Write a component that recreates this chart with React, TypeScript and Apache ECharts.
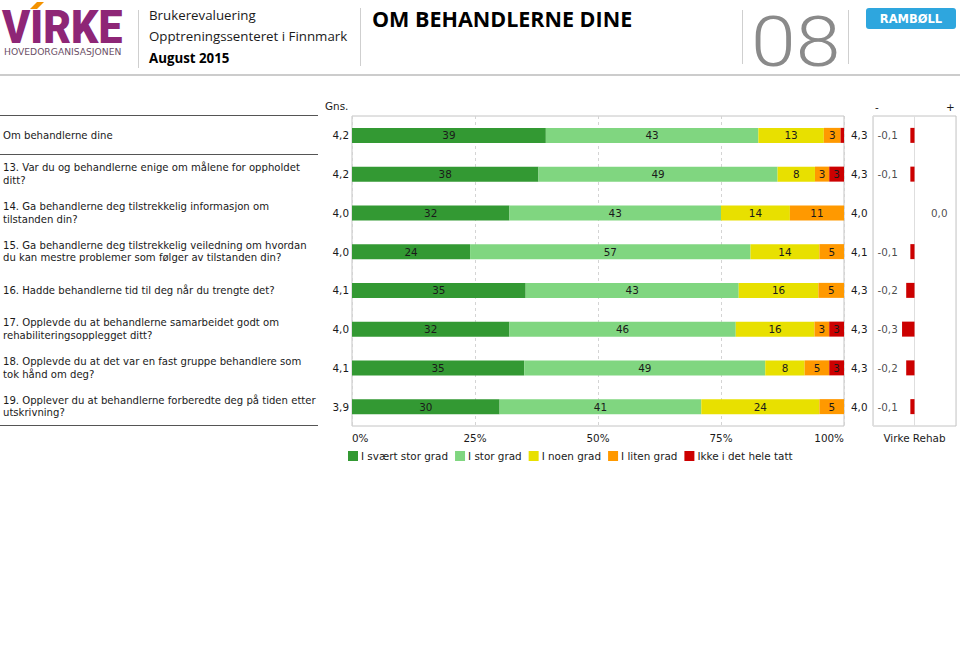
import React, { useEffect, useRef } from 'react';
import * as echarts from 'echarts';

const questions = [
  'Om behandlerne dine',
  '13. Var du og behandlerne enige om målene for oppholdet\nditt?',
  '14. Ga behandlerne deg tilstrekkelig informasjon om\ntilstanden din?',
  '15. Ga behandlerne deg tilstrekkelig veiledning om hvordan\ndu kan mestre problemer som følger av tilstanden din?',
  '16. Hadde behandlerne tid til deg når du trengte det?',
  '17. Opplevde du at behandlerne samarbeidet godt om\nrehabiliteringsopplegget ditt?',
  '18. Opplevde du at det var en fast gruppe behandlere som\ntok hånd om deg?',
  '19. Opplever du at behandlerne forberedte deg på tiden etter\nutskrivning?',
];

const gns = [4.2, 4.2, 4.0, 4.0, 4.1, 4.0, 4.1, 3.9];
const virkeRehab = [4.3, 4.3, 4.0, 4.1, 4.3, 4.3, 4.3, 4.0];
const diff = [-0.1, -0.1, 0.0, -0.1, -0.2, -0.3, -0.2, -0.1];

const seriesNames = ['I svært stor grad', 'I stor grad', 'I noen grad', 'I liten grad', 'Ikke i det hele tatt'];
const svaertStor = [39.4, 37.9, 32, 24, 35.3, 32, 35, 30];
const stor = [43.2, 48.6, 43, 57, 43.3, 46, 49, 41];
const noen = [13.3, 7.6, 14, 14, 16.2, 16, 8, 24];
const liten = [3.4, 2.9, 11, 5, 5.2, 3, 5, 5];
const ikke = [0.7, 3.0, 0, 0, 0, 3, 3, 0];
const seriesColors = ['#339933', '#80d680', '#e8e000', '#ff9900', '#cc0000'];

const FONT = 'DejaVu Sans';
const FS = 10.4;
const TXT = '#1a1a1a';

const fmt = (v: number) => v.toFixed(1).replace('.', ',');

export default function App() {
  const ref = useRef<HTMLDivElement>(null);
  useEffect(() => {
    if (!ref.current) return;
    const chart = echarts.init(ref.current, undefined, { renderer: 'svg' });
    const stackData = [svaertStor, stor, noen, liten, ikke];
    const barSeries = stackData.map((d, k) => ({
      name: seriesNames[k],
      type: 'bar',
      stack: 'total',
      xAxisIndex: 0,
      yAxisIndex: 0,
      barWidth: 15,
      data: d,
      itemStyle: { color: seriesColors[k] },
      label: {
        show: true,
        position: 'inside',
        color: TXT,
        fontFamily: FONT,
        fontSize: FS,
        formatter: (p: any) => (p.value >= 2 ? String(Math.round(p.value)) : ''),
      },
    }));

    const option: any = {
      animation: false,
      textStyle: { fontFamily: FONT },
      grid: [
        { left: 348, top: 116, width: 496, height: 310, show: true, borderColor: '#c4c4c4', borderWidth: 1 },
        { left: 873, top: 116, width: 83, height: 310, show: true, borderColor: '#c4c4c4', borderWidth: 1 },
      ],
      xAxis: [
        {
          gridIndex: 0,
          type: 'value',
          min: 0,
          max: 100,
          interval: 25,
          axisLine: { show: false },
          axisTick: { show: false },
          splitLine: { show: true, lineStyle: { color: '#d4d4d4', type: [3, 3] } },
          axisLabel: {
            formatter: '{value}%',
            margin: 7,
            fontFamily: FONT,
            fontSize: FS,
            color: TXT,
            alignMinLabel: 'left',
            alignMaxLabel: 'right',
          },
        },
        {
          gridIndex: 1,
          type: 'value',
          min: -1,
          max: 1,
          interval: 1,
          axisLine: { show: false },
          axisTick: { show: false },
          axisLabel: { show: false },
          splitLine: { show: true, lineStyle: { color: '#dedede' } },
          name: 'Virke Rehab',
          nameLocation: 'middle',
          nameGap: 7,
          nameTextStyle: { fontFamily: FONT, fontSize: FS, color: TXT },
        },
      ],
      yAxis: [
        {
          gridIndex: 0,
          type: 'category',
          inverse: true,
          data: questions,
          position: 'left',
          axisLine: { show: false },
          axisTick: { show: false },
          axisLabel: {
            margin: 3,
            fontFamily: FONT,
            fontSize: FS,
            color: TXT,
            formatter: (_v: string, i: number) => fmt(gns[i]),
          },
        },
        {
          gridIndex: 0,
          type: 'category',
          inverse: true,
          data: questions,
          position: 'left',
          offset: 0,
          axisLine: { show: false },
          axisTick: { show: false },
          axisLabel: {
            margin: 349,
            align: 'left',
            fontFamily: FONT,
            fontSize: 10.1,
            lineHeight: 12.5,
            color: TXT,
          },
        },
        {
          gridIndex: 0,
          type: 'category',
          inverse: true,
          data: questions,
          position: 'right',
          axisLine: { show: false },
          axisTick: { show: false },
          axisLabel: {
            margin: 7,
            fontFamily: FONT,
            fontSize: FS,
            color: TXT,
            formatter: (_v: string, i: number) => fmt(virkeRehab[i]),
          },
        },
        {
          gridIndex: 1,
          type: 'category',
          inverse: true,
          data: questions,
          axisLine: { show: false },
          axisTick: { show: false },
          axisLabel: { show: false },
        },
      ],
      legend: {
        data: seriesNames,
        left: 348,
        top: 451,
        icon: 'rect',
        itemWidth: 10,
        itemHeight: 10,
        itemGap: 7,
        padding: 0,
        textStyle: { fontFamily: FONT, fontSize: FS, color: TXT, padding: [0, 0, 0, -2] },
      },
      series: [
        ...barSeries,
        {
          name: 'Differanse',
          type: 'bar',
          xAxisIndex: 1,
          yAxisIndex: 3,
          barWidth: 15,
          data: diff,
          itemStyle: { color: '#cc0000' },
        },
        {
          name: 'DifferanseTekst',
          type: 'scatter',
          xAxisIndex: 1,
          yAxisIndex: 3,
          symbolSize: 1,
          itemStyle: { color: 'transparent' },
          silent: true,
          data: diff.map((d, i) => ({
            value: [d < 0 ? -1 : 1, i],
            label: {
              show: true,
              position: d < 0 ? 'right' : 'left',
              distance: d < 0 ? 4 : 8,
              formatter: fmt(d),
              fontFamily: FONT,
              fontSize: FS,
              color: TXT,
            },
          })),
        },
      ],
      graphic: [
        // header
        {
          type: 'text',
          x: 2,
          y: 27.5,
          scaleX: 0.93,
          style: {
            text: 'VIRKE',
            font: '900 46px Roboto',
            fill: '#8e2676',
            verticalAlign: 'middle',
          },
        },
        {
          type: 'polygon',
          shape: { points: [[30, 9], [37, 2], [44, 2], [37, 9]] },
          style: { fill: '#f39200' },
        },
        {
          type: 'text',
          x: 4,
          y: 46.5,
          style: { text: 'HOVEDORGANISASJONEN', font: '9.2px "DejaVu Sans"', fill: '#6b4f66', verticalAlign: 'top' },
        },
        { type: 'line', shape: { x1: 138.5, y1: 10, x2: 138.5, y2: 68 }, style: { stroke: '#cfcfcf', lineWidth: 1 } },
        { type: 'line', shape: { x1: 360.5, y1: 8, x2: 360.5, y2: 66 }, style: { stroke: '#cfcfcf', lineWidth: 1 } },
        { type: 'line', shape: { x1: 742.5, y1: 10, x2: 742.5, y2: 64 }, style: { stroke: '#cfcfcf', lineWidth: 1 } },
        { type: 'line', shape: { x1: 848.5, y1: 10, x2: 848.5, y2: 64 }, style: { stroke: '#cfcfcf', lineWidth: 1 } },
        { type: 'line', shape: { x1: 0, y1: 75, x2: 960, y2: 75 }, style: { stroke: '#cccccc', lineWidth: 2 } },
        {
          type: 'text',
          x: 149,
          y: 15,
          style: { text: 'Brukerevaluering', font: '13.3px "Open Sans"', fill: '#1a1a1a', verticalAlign: 'middle' },
        },
        {
          type: 'text',
          x: 149,
          y: 36,
          style: { text: 'Opptreningssenteret i Finnmark', font: '13.3px "Open Sans"', fill: '#1a1a1a', verticalAlign: 'middle' },
        },
        {
          type: 'text',
          x: 149,
          y: 58,
          style: { text: 'August 2015', font: 'bold 13.3px "Open Sans"', fill: '#000', verticalAlign: 'middle' },
        },
        {
          type: 'text',
          x: 372,
          y: 18,
          style: { text: 'OM BEHANDLERNE DINE', font: 'bold 21.5px "Open Sans"', fill: '#000', verticalAlign: 'middle' },
        },
        {
          type: 'text',
          x: 751,
          y: 42,
          scaleX: 1.15,
          style: {
            text: '08',
            font: '300 70px Roboto',
            fill: '#8a8a8a',
            verticalAlign: 'middle',
          },
        },
        {
          type: 'rect',
          shape: { x: 866, y: 8, width: 90, height: 21, r: 3 },
          style: { fill: '#2ea6de' },
        },
        {
          type: 'text',
          x: 911,
          y: 18.5,
          style: { text: 'RAMBØLL', font: 'bold 11.5px "DejaVu Sans"', fill: '#fff', align: 'center', verticalAlign: 'middle' },
        },
        // table labels
        {
          type: 'text',
          x: 325,
          y: 106,
          style: { text: 'Gns.', font: `${FS}px "DejaVu Sans"`, fill: TXT, verticalAlign: 'middle' },
        },
        {
          type: 'text',
          x: 875,
          y: 107,
          style: { text: '-', font: `${FS}px "DejaVu Sans"`, fill: TXT, verticalAlign: 'middle' },
        },
        {
          type: 'text',
          x: 946,
          y: 107,
          style: { text: '+', font: `${FS}px "DejaVu Sans"`, fill: TXT, verticalAlign: 'middle' },
        },
        { type: 'line', shape: { x1: 0, y1: 115.5, x2: 318, y2: 115.5 }, style: { stroke: '#555', lineWidth: 1 } },
        { type: 'line', shape: { x1: 0, y1: 154.5, x2: 318, y2: 154.5 }, style: { stroke: '#555', lineWidth: 1 } },
        { type: 'line', shape: { x1: 0, y1: 425.5, x2: 318, y2: 425.5 }, style: { stroke: '#555', lineWidth: 1 } },
      ],
    };
    chart.setOption(option);
    return () => chart.dispose();
  }, []);
  return (
    <div
      ref={ref}
      style={{ position: 'absolute', left: 0, top: 0, width: 960, height: 659, background: '#fff' }}
    />
  );
}
